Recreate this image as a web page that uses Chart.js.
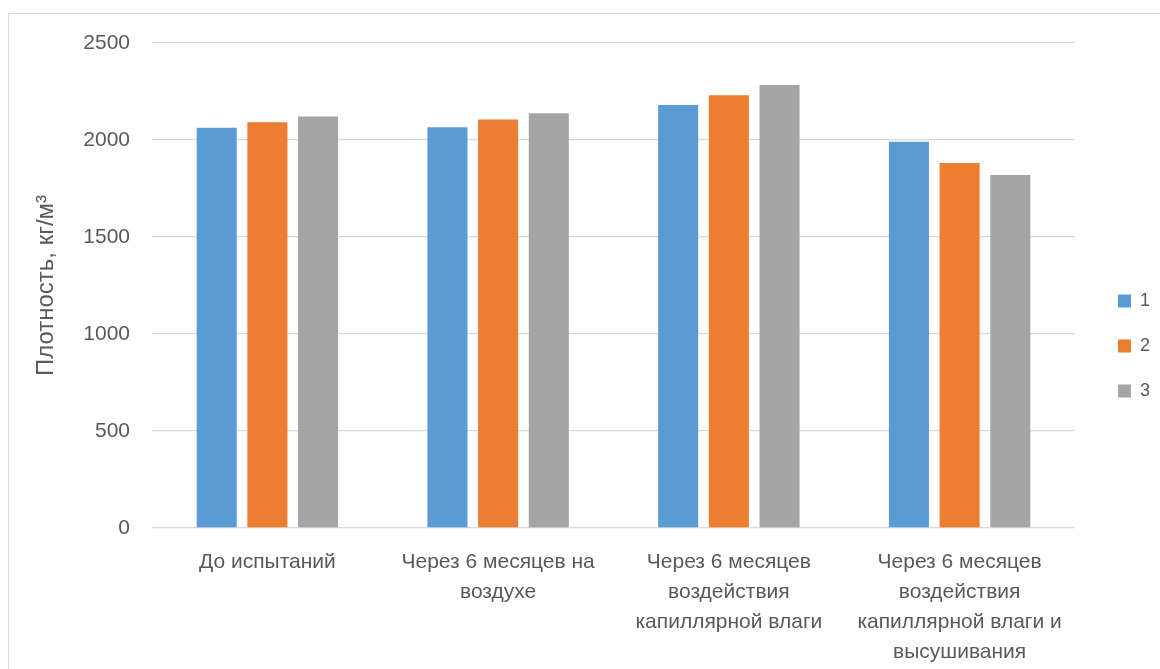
<!DOCTYPE html>
<html>
<head>
<meta charset="utf-8">
<script src="https://cdn.jsdelivr.net/npm/chart.js@4"></script>
<style>
    html, body { margin: 0; padding: 0; background: #fff; }
    #wrap { position: relative; width: 1160px; height: 669px; overflow: hidden; }
    #frame { position: absolute; left: 8px; top: 13px; width: 1200px; height: 700px;
             border-left: 1px solid #d9d9d9; border-top: 1px solid #d9d9d9; }
    canvas { position: absolute; left: 0; top: 0; }
</style>
</head>
<body>
<div id="wrap">
    <div id="frame"></div>
    <canvas id="densityChart" width="1160" height="669"></canvas>
</div>
<script>
const categories = [
    ['До испытаний'],
    ['Через 6 месяцев на', 'воздухе'],
    ['Через 6 месяцев', 'воздействия', 'капиллярной влаги'],
    ['Через 6 месяцев', 'воздействия', 'капиллярной влаги и', 'высушивания']
];
const series1 = [2063, 2066, 2181, 1991];
const series2 = [2092, 2106, 2231, 1881];
const series3 = [2121, 2138, 2284, 1819];
const seriesNames = ['1', '2', '3'];
const yTicks = [0, 500, 1000, 1500, 2000, 2500];

const textColor = '#595959';
const fontFamily = "'Liberation Sans', Arial, sans-serif";

// invisible scale used only to reserve space
const spacer = (position, size) => ({
    type: 'linear',
    position: position,
    display: true,
    grid: { display: false, drawTicks: false },
    border: { display: false },
    ticks: { display: false },
    afterFit: s => {
        if (position === 'top') s.height = size; else s.width = size;
    }
});

document.addEventListener('DOMContentLoaded', () => {
    const ctx = document.getElementById('densityChart').getContext('2d');
    new Chart(ctx, {
        type: 'bar',
        data: {
            labels: categories,
            datasets: [
                { label: seriesNames[0], data: series1, backgroundColor: '#5B9BD5' },
                { label: seriesNames[1], data: series2, backgroundColor: '#ED7D31' },
                { label: seriesNames[2], data: series3, backgroundColor: '#A5A5A5' }
            ]
        },
        options: {
            responsive: false,
            animation: false,
            layout: { padding: { left: 20, top: 23, right: 0, bottom: 0 } },
            datasets: {
                bar: { categoryPercentage: 0.659, barPercentage: 0.79 }
            },
            plugins: {
                tooltip: { enabled: false },
                legend: {
                    position: 'right',
                    labels: {
                        boxWidth: 13,
                        boxHeight: 13,
                        padding: 27,
                        color: textColor,
                        font: { family: fontFamily, size: 18 }
                    }
                }
            },
            scales: {
                x: {
                    grid: { display: false, drawTicks: false },
                    border: { display: false },
                    ticks: {
                        color: textColor,
                        padding: 19,
                        maxRotation: 0,
                        autoSkip: false,
                        font: { family: fontFamily, size: 21, lineHeight: 1.43 }
                    },
                    afterFit: s => { s.height = 141; }
                },
                y: {
                    min: 0,
                    max: 2500,
                    afterBuildTicks: s => { s.ticks = yTicks.map(v => ({ value: v })); },
                    grid: { color: '#d9d9d9', lineWidth: 1.3, drawTicks: false },
                    border: { display: false },
                    ticks: {
                        color: textColor,
                        padding: 22,
                        font: { family: fontFamily, size: 21 },
                        callback: v => String(v)
                    },
                    title: {
                        display: true,
                        text: 'Плотность, кг/м³',
                        color: textColor,
                        padding: { top: 12, bottom: 0 },
                        font: { family: fontFamily, size: 24, weight: 'normal' }
                    },
                    afterFit: s => { s.width = 132; }
                },
                topGap: spacer('top', 20),
                rightGap: spacer('right', 16)
            }
        }
    });
});
</script>
</body>
</html>
